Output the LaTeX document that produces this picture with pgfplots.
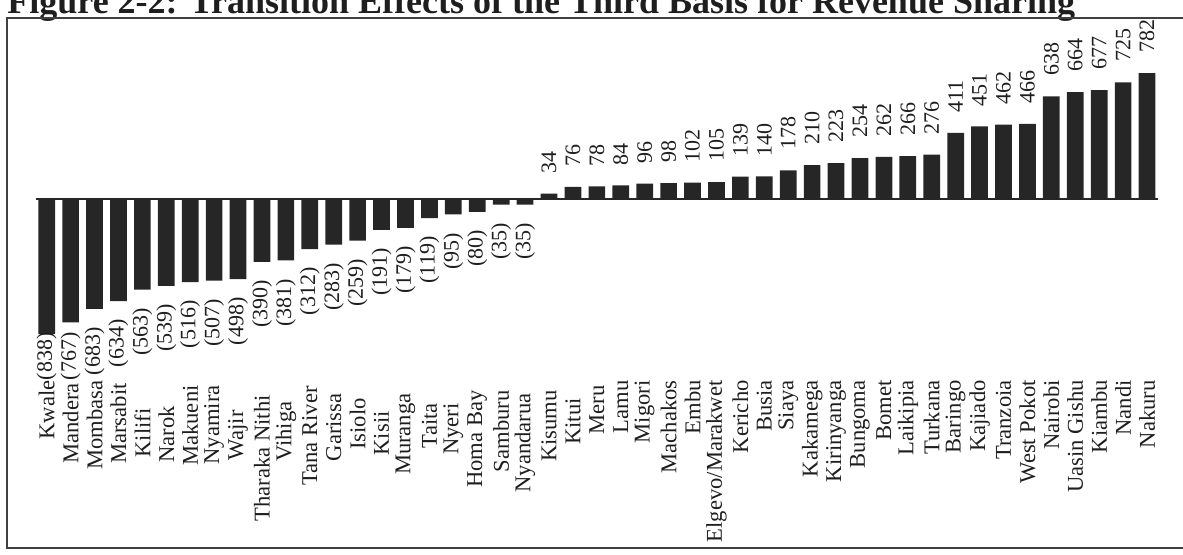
\documentclass[border=0pt]{standalone}
\usepackage{fontspec}
\setmainfont{Liberation Serif}
\usepackage{pgfplots}
\usepackage{pgfplotstable}
\pgfplotsset{compat=1.18}
\definecolor{barcol}{HTML}{262626}
\definecolor{txt}{HTML}{1E1E1E}
\newcommand{\dn}[1]{\hspace*{#1pt}}
\pgfplotstableread{
i name v lab
0 {Kwale} -838 (838)
1 {Mandera\dn{1.5}} -767 (767)
2 {Mombasa} -683 (683)
3 {Marsabit\dn{1.5}} -634 (634)
4 {Kilifi\dn{14}} -563 (563)
5 {Narok\dn{13}} -539 (539)
6 {Makueni\dn{2.5}} -516 (516)
7 {Nyamira\dn{2.5}} -507 (507)
8 {Wajir\dn{15}} -498 (498)
9 {Tharaka Nithi\dn{7.5}} -390 (390)
10 {Vihiga\dn{10.5}} -381 (381)
11 {Tana River\dn{3}} -312 (312)
12 {Garissa\dn{6.5}} -283 (283)
13 {Isiolo\dn{9}} -259 (259)
14 {Kisii\dn{15.5}} -191 (191)
15 {Muranga\dn{6.5}} -179 (179)
16 {Taita\dn{11.5}} -119 (119)
17 {Nyeri\dn{11.5}} -95 (95)
18 {Homa Bay\dn{5}} -80 (80)
19 {Samburu\dn{5}} -35 (35)
20 {Nyandarua\dn{6.5}} -35 (35)
21 {Kisumu\dn{5}} 34 34
22 {Kitui\dn{9}} 76 76
23 {Meru\dn{2.5}} 78 78
24 Lamu 84 84
25 Migori 96 96
26 Machakos 98 98
27 Embu 102 102
28 Elgevo/Marakwet 105 105
29 Kericho 139 139
30 Busia 140 140
31 Siaya 178 178
32 Kakamega 210 210
33 Kirinyanga 223 223
34 Bungoma 254 254
35 Bomet 262 262
36 Laikipia 266 266
37 Turkana 276 276
38 Baringo 411 411
39 Kajiado 451 451
40 Tranzoia 462 462
41 {West Pokot} 466 466
42 Nairobi 638 638
43 {Uasin Gishu} 664 664
44 Kiambu 677 677
45 Nandi 725 725
46 Nakuru 782 782
}\data
\begin{document}
\begin{tikzpicture}[x=0.5pt,y=0.5pt]
\useasboundingbox (0,0) rectangle (1183,555);
\node[anchor=base west, inner sep=0pt, font=\bfseries\fontsize{18}{20}\selectfont, text=txt] at (7,541) {Figure 2-2: Transition Effects of the Third Basis for Revenue Sharing};
\draw[line width=0.8pt, black!75] (1200,537) -- (7,537) -- (7,7) -- (1200,7);
\begin{axis}[
  at={(5.4pt,87.5pt)}, anchor=south west,
  scale only axis, width=584.85pt, height=179pt,
  xmin=-1.5, xmax=47.4, ymin=-1124.2, ymax=1099.4,
  axis line style={draw=none}, major tick length=0pt,
  ytick=\empty, xtick={0,...,46},
  xticklabels from table={\data}{name},
  xticklabel style={rotate=90, anchor=east, inner sep=0pt, font=\fontsize{11.3}{13}\selectfont, text=txt},
  clip=false,
]
\addplot[ybar, bar width=8.35pt, fill=barcol, draw=none] table[x=i, y=v]{\data};
\addplot[draw=none, mark=none, restrict x to domain=0:20, nodes near coords, point meta=explicit symbolic,
  every node near coord/.append style={rotate=90, anchor=east, inner sep=0pt, font=\fontsize{11}{13}\selectfont, text=txt}]
  table[x=i, y expr={max(\thisrow{v}-112,-826)}, meta=lab]{\data};
\addplot[draw=none, mark=none, restrict x to domain=21:46, nodes near coords, point meta=explicit symbolic,
  every node near coord/.append style={rotate=90, anchor=west, inner sep=0pt, font=\fontsize{11}{13}\selectfont, text=txt}]
  table[x=i, y expr={\thisrow{v}+124}, meta=lab]{\data};
\draw[line width=0.7pt, barcol] (axis cs:-0.45,0) -- (axis cs:46.45,0);
\end{axis}
\end{tikzpicture}
\end{document}
